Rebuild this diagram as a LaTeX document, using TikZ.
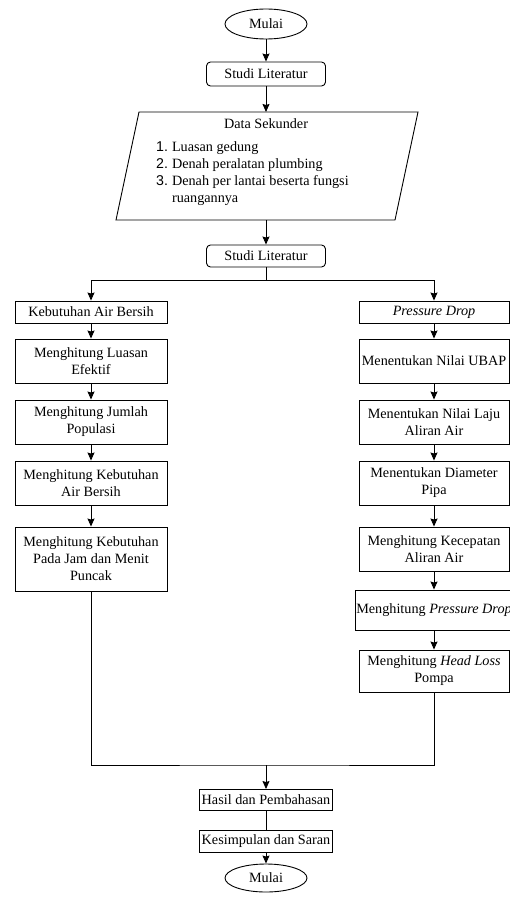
\documentclass[tikz,border=0pt]{standalone}
\usepackage{fontspec}
\setmainfont{Liberation Serif}
\newfontfamily\numfont{Liberation Sans}
\usetikzlibrary{positioning, calc, arrows.meta, shapes}

\begin{document}
\begin{tikzpicture}[
    x=1pt, y=-1pt,
    font=\fontsize{14.2}{17}\selectfont,
    proc/.style={rectangle, draw=black, line width=0.9pt, align=center, inner sep=2pt},
    studi/.style={proc, rounded corners=4pt, minimum width=119pt, minimum height=24pt},
    lbox/.style={proc, minimum width=152pt, minimum height=44pt},
    rbox/.style={proc, inner xsep=1pt, minimum width=150pt, minimum height=44pt},
    endbox/.style={proc, minimum width=124pt, minimum height=21pt},
    terminal/.style={ellipse, draw=black, line width=0.9pt, minimum width=82pt, minimum height=30pt, inner sep=0pt},
    arrow/.style={-{Stealth[length=8pt, width=7pt, inset=1pt]}, line width=0.9pt}
]
    \useasboundingbox (0,0) rectangle (510,915);

    % Start
    \node[terminal] (mulai) at (266,24) {Mulai};
    \node[studi] (studi1) at (266,74) {Studi Literatur};

    % Data sekunder (parallelogram)
    \draw[line width=0.9pt] (139,112) -- (418,112) -- (395,220) -- (116,220) -- cycle;
    \coordinate (dstop) at (266,112);
    \coordinate (dsbot) at (266,220);
    \node (dstitle) at (266,124) {Data Sekunder};
    \node[anchor=north west, align=left, inner sep=0pt] (dslist) at (156,139) {%
        \begin{tabular}{@{}r@{\hspace{4pt}}l@{}}
        {\numfont 1.} & Luasan gedung\\
        {\numfont 2.} & Denah peralatan plumbing\\
        {\numfont 3.} & Denah per lantai beserta fungsi\\
         & ruangannya
        \end{tabular}};

    \node[studi, minimum height=22pt] (studi2) at (266,256) {Studi Literatur};
    \coordinate (split) at (266,280);

    % Left branch
    \node[lbox, minimum height=22pt] (airbersih) at (91,312) {Kebutuhan Air Bersih};
    \node[lbox] (luasan) at (91,361) {Menghitung Luasan\\Efektif};
    \node[lbox] (populasi) at (91,422) {Menghitung Jumlah\\Populasi};
    \node[lbox] (kebutuhan) at (91,483) {Menghitung Kebutuhan\\Air Bersih};
    \node[lbox, minimum height=64pt] (puncak) at (91,559) {Menghitung Kebutuhan\\Pada Jam dan Menit\\Puncak};

    % Right branch
    \node[rbox, minimum height=22pt] (pdrop) at (434,312) {\textit{Pressure Drop}};
    \node[rbox] (ubap) at (434,361) {Menentukan Nilai UBAP};
    \node[rbox] (laju) at (434,422) {Menentukan Nilai Laju\\Aliran Air};
    \node[rbox] (diameter) at (434,483) {Menentukan Diameter\\Pipa};
    \node[rbox] (kecepatan) at (434,549) {Menghitung Kecepatan\\Aliran Air};
    \node[rbox, minimum height=40pt] (hitungpd) at (434,610) {Menghitung \textit{Pressure Drop}};
    \node[rbox, minimum height=42pt] (headloss) at (434,671) {Menghitung \textit{Head Loss}\\Pompa};

    % End
    \coordinate (merge) at (266,765);
    \node[endbox] (hasil) at (266,800) {Hasil dan Pembahasan};
    \node[endbox, minimum height=22pt] (simpulan) at (266,841) {Kesimpulan dan Saran};
    \node[terminal, minimum height=28pt] (selesai) at (266,878) {Mulai};

    % Arrows
    \draw[arrow] (mulai) -- (studi1);
    \draw[arrow] (studi1) -- (dstop);
    \draw[arrow] (dsbot) -- (studi2);
    \draw[line width=0.9pt] (studi2) -- (split);
    \draw[arrow] (split) -| (airbersih);
    \draw[arrow] (split) -| (pdrop);
    \foreach \a/\b in {airbersih/luasan, luasan/populasi, populasi/kebutuhan, kebutuhan/puncak,
        pdrop/ubap, ubap/laju, laju/diameter, diameter/kecepatan, kecepatan/hitungpd, hitungpd/headloss}
        \draw[arrow] (\a) -- (\b);
    \draw[line width=0.9pt] (puncak) |- (merge) -| (headloss);
    \draw[arrow] (merge) -- (hasil);
    \draw[line width=0.9pt] (hasil) -- (simpulan);
    \draw[arrow] (simpulan) -- (selesai);

\end{tikzpicture}
\end{document}
